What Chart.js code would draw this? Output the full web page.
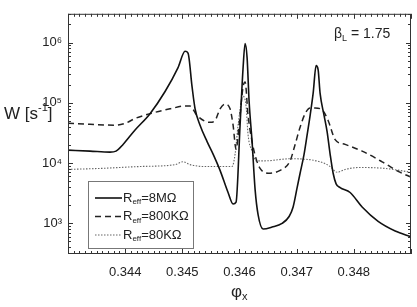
<!DOCTYPE html>
<html>
<head>
<meta charset="utf-8">
<script src="https://cdn.jsdelivr.net/npm/chart.js@4"></script>
<style>
body{margin:0;background:#fff;}
canvas{display:block;}
</style>
</head>
<body>
<canvas id="chart" width="417" height="307"></canvas>
<script>
// R_eff = 8 MOhm (solid)
const phi8M=[0.343,0.343385,0.343735,0.34384,0.343963,0.344173,0.344435,0.344698,0.344925,0.345048,0.3451,0.34517,0.345223,0.34531,0.345433,0.345538,0.34566,0.3458,0.345888,0.34594,0.34601,0.346063,0.346098,0.346133,0.346168,0.34622,0.346273,0.346325,0.346413,0.34657,0.346745,0.346868,0.346938,0.347008,0.34706,0.34713,0.347183,0.347235,0.347288,0.34734,0.347375,0.34741,0.34748,0.347533,0.347585,0.347638,0.34769,0.34776,0.347935,0.348145,0.348425,0.348723,0.349];
const w8M=[16400,15800,15200,15800,20400,35400,66100,154000,385000,718000,668000,185000,79400,42500,22700,14100,7570,3250,2090,2250,42500,385000,964000,556000,106000,22700,3630,1400,805,867,1000,1300,1870,3910,6780,14100,29400,61400,143000,414000,357000,143000,61400,32900,14100,6780,4530,3910,3250,1870,1080,748,600];
// R_eff = 800 KOhm (dashed)
const phi800K=[0.343,0.343385,0.34382,0.344,0.344173,0.344435,0.344785,0.345048,0.345135,0.345258,0.345485,0.345573,0.34566,0.345748,0.345835,0.345888,0.34594,0.345993,0.346063,0.346098,0.34615,0.34622,0.34629,0.34636,0.3465,0.34671,0.346885,0.346973,0.34706,0.347148,0.347235,0.347323,0.347445,0.34755,0.347673,0.347848,0.348145,0.348495,0.348775,0.349];
const w800K=[45700,44100,42500,45700,54900,66100,79400,88600,88600,61400,47400,51000,79400,95300,79400,42500,17000,42500,185000,222000,61400,22700,11800,8150,6780,7570,10900,20400,39400,66100,82200,82200,76500,51000,24500,20400,15800,10500,7290,5850];
// R_eff = 80 KOhm (dotted)
const phi80K=[0.343,0.34356,0.34426,0.344873,0.345013,0.345135,0.345398,0.34587,0.345923,0.345975,0.346063,0.346115,0.34615,0.34622,0.34629,0.346448,0.346885,0.34741,0.347585,0.347708,0.347848,0.34811,0.348548,0.349];
const w80K=[7850,8150,8770,9430,10500,9430,8770,8770,14100,42500,128000,88600,29400,15800,10900,10900,11800,10500,8770,7030,7850,8450,8150,7030];

const xTicks=[0.344,0.345,0.346,0.347,0.348];
const yTicks=[1e3,1e4,1e5,1e6];
const yTickLabels=['10³','10⁴','10⁵','10⁶'];
const seriesNames=['8MΩ','800KΩ','80KΩ'];

const FONT='"Liberation Sans", Arial, sans-serif';
const INK='#222';

function pts(xs,ys){ return xs.map((x,i)=>({x:x,y:ys[i]})); }

function drawSub(ctx,x,y,main,sub,size){
    ctx.font=size+'px '+FONT;
    ctx.fillText(main,x,y);
    const w=ctx.measureText(main).width;
    ctx.font=Math.round(size*0.62)+'px '+FONT;
    ctx.fillText(sub,x+w,y+size*0.3);
    return w+ctx.measureText(sub).width;
}

const decorPlugin={
    id:'decor',
    afterDraw(chart){
        const ctx=chart.ctx;
        const a=chart.chartArea;
        const xs=chart.scales.x, ys=chart.scales.y;
        ctx.save();
        // frame
        ctx.strokeStyle='#333';
        ctx.lineWidth=1;
        ctx.strokeRect(a.left+0.5,a.top+0.5,a.right-a.left-1,a.bottom-a.top-1);
        // inward ticks
        ctx.beginPath();
        for(let i=3430;i<=3490;i++){
            const v=i/10000;
            const px=Math.round(xs.getPixelForValue(v))+0.5;
            const len=(i%10===0)?5:3;
            ctx.moveTo(px,a.bottom);ctx.lineTo(px,a.bottom-len);
            ctx.moveTo(px,a.top);ctx.lineTo(px,a.top+len);
        }
        for(let d=2;d<=6;d++){
            for(let m=1;m<=9;m++){
                const v=m*Math.pow(10,d);
                if(v<ys.min||v>ys.max) continue;
                const py=Math.round(ys.getPixelForValue(v))+0.5;
                const len=(m===1)?5:3;
                ctx.moveTo(a.left,py);ctx.lineTo(a.left+len,py);
                ctx.moveTo(a.right,py);ctx.lineTo(a.right-len,py);
            }
        }
        ctx.stroke();

        ctx.fillStyle=INK;
        ctx.textBaseline='middle';
        ctx.textAlign='left';
        // y title  W [s^-1]
        ctx.font='17px '+FONT;
        let x0=4, y0=114;
        ctx.fillText('W [s',x0,y0);
        let w=ctx.measureText('W [s').width;
        ctx.font='11px '+FONT;
        ctx.fillText('-1',x0+w,y0-6);
        w+=ctx.measureText('-1').width;
        ctx.font='17px '+FONT;
        ctx.fillText(']',x0+w,y0);
        // x title phi_x
        drawSub(ctx,231,292,'φ','x',17);
        // beta_L annotation
        let bw=drawSub(ctx,334,34,'β','L',14);
        ctx.font='14px '+FONT;
        ctx.fillText(' = 1.75',334+bw,34);

        // legend
        const lx=88, ly=181, lw=105, lh=67;
        ctx.fillStyle='#fff';
        ctx.fillRect(lx,ly,lw,lh);
        ctx.strokeStyle='#777';
        ctx.strokeRect(lx+0.5,ly+0.5,lw,lh);
        chart.data.datasets.forEach((ds,i)=>{
            const yy=ly+17+i*18.5;
            ctx.strokeStyle=ds.borderColor;
            ctx.lineWidth=ds.borderWidth;
            ctx.setLineDash(ds.borderDash||[]);
            ctx.beginPath();
            ctx.moveTo(lx+7,yy);ctx.lineTo(lx+34,yy);
            ctx.stroke();
            ctx.setLineDash([]);
            ctx.fillStyle=INK;
            const sw=drawSub(ctx,lx+35,yy,'R','eff',13);
            ctx.font='13px '+FONT;
            ctx.fillText('='+seriesNames[i],lx+35+sw,yy);
        });
        ctx.restore();
    }
};

new Chart(document.getElementById('chart'),{
    type:'line',
    data:{datasets:[
        {label:seriesNames[0],data:pts(phi8M,w8M),borderColor:'#111',borderWidth:1.6,pointRadius:0,cubicInterpolationMode:'monotone'},
        {label:seriesNames[1],data:pts(phi800K,w800K),borderColor:'#222',borderWidth:1.5,borderDash:[6,4],pointRadius:0,cubicInterpolationMode:'monotone'},
        {label:seriesNames[2],data:pts(phi80K,w80K),borderColor:'#666',borderWidth:1.1,borderDash:[1.5,1.5],pointRadius:0,cubicInterpolationMode:'monotone'}
    ]},
    options:{
        responsive:false,
        animation:false,
        events:[],
        layout:{padding:{top:4,right:6,left:0,bottom:0}},
        plugins:{legend:{display:false},tooltip:{enabled:false}},
        scales:{
            x:{
                type:'linear',min:0.343,max:0.349,
                afterBuildTicks:s=>{s.ticks=xTicks.map(v=>({value:v}));},
                afterFit:s=>{s.height=53;},
                grid:{display:false,drawTicks:false},
                border:{display:false},
                ticks:{padding:11,color:INK,font:{family:FONT,size:13},callback:v=>v.toFixed(3),maxRotation:0,autoSkip:false}
            },
            y:{
                type:'logarithmic',min:310,max:3.0e6,
                afterBuildTicks:s=>{s.ticks=yTicks.map(v=>({value:v}));},
                afterFit:s=>{s.width=68;},
                grid:{display:false,drawTicks:false},
                border:{display:false},
                ticks:{padding:6,color:INK,font:{family:FONT,size:13},callback:(v)=>yTickLabels[yTicks.indexOf(v)]||'',autoSkip:false}
            }
        }
    },
    plugins:[decorPlugin]
});
</script>
</body>
</html>
